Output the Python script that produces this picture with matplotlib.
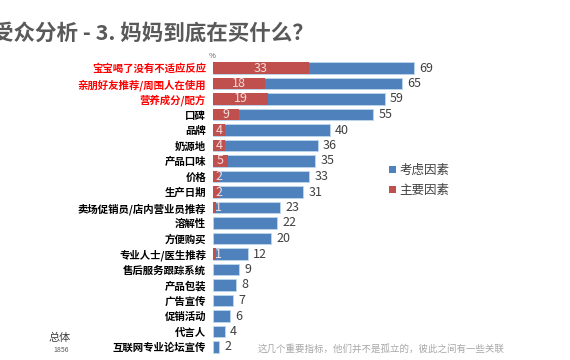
import matplotlib
matplotlib.use("Agg")
import matplotlib.pyplot as plt
import numpy as np

plt.rcParams['font.family'] = ['Noto Sans CJK SC', 'DejaVu Sans']

categories = ["宝宝喝了没有不适应反应", "亲朋好友推荐/周围人在使用", "营养成分/配方", "口碑", "品牌",
              "奶源地", "产品口味", "价格", "生产日期", "卖场促销员/店内营业员推荐", "溶解性",
              "方便购买", "专业人士/医生推荐", "售后服务跟踪系统", "产品包装", "广告宣传",
              "促销活动", "代言人", "互联网专业论坛宣传"]
consider = [69, 65, 59, 55, 40, 36, 35, 33, 31, 23, 22, 20, 12, 9, 8, 7, 6, 4, 2]
main = [33, 18, 19, 9, 4, 4, 5, 2, 2, 1, 0, 0, 1, 0, 0, 0, 0, 0, 0]
highlight = [True, True, True] + [False] * 16

BLUE = "#4F81BD"
RED = "#C0504D"

fig = plt.figure(figsize=(5.7, 3.6), dpi=100)
ax = fig.add_axes([213/570, 1 - 354.75/360, 80*2.913/570, 294.5/360])

y = np.arange(len(categories))
hb = ax.barh(y, consider, height=0.72, color=BLUE, edgecolor="#BDD7EE", linewidth=0.6, label="考虑因素")
hr = ax.barh(y, main, height=0.72, color=RED, edgecolor="none", label="主要因素")

for i, (c, m) in enumerate(zip(consider, main)):
    ax.text(c + 1.8, i, str(c), va="center", ha="left", fontsize=9, color="#404040")
    if m > 0:
        xpos = m / 2 if m >= 4 else max(m / 2, 0) + 1.2
        ax.text(xpos, i, str(m), va="center", ha="center", fontsize=9, color="#F2DCDB")

ax.set_xlim(0, 80)
ax.set_ylim(len(categories) - 0.5, -0.5)
ax.set_yticks(y)
ax.set_yticklabels(categories, fontsize=7.5, fontweight="bold")
for lbl, h in zip(ax.get_yticklabels(), highlight):
    lbl.set_color("#FF0000" if h else "#000000")
ax.tick_params(axis="y", length=0, pad=5)
ax.set_xticks([])
for s in ax.spines.values():
    s.set_visible(False)

fig.text(-8/570, 1 - 33/360, "受众分析 - 3. 妈妈到底在买什么？", fontsize=15.5, fontweight="bold",
         color="#595959", ha="left", va="center")
fig.text(212/570, 1 - 56/360, "%", fontsize=5.5, color="#595959", ha="center", va="center")

leg = fig.legend(handles=[hb, hr], labels=["考虑因素", "主要因素"], loc="upper left",
                 bbox_to_anchor=(389/570, 1 - 164/360), frameon=False, fontsize=9,
                 handlelength=0.55, handleheight=0.55, handletextpad=0.3, labelspacing=0.55,
                 borderpad=0, borderaxespad=0, labelcolor="#404040")
for h in leg.legend_handles:
    h.set_edgecolor("none")

fig.text(60/570, 1 - 338/360, "总体", fontsize=8, color="#404040", ha="center", va="center")
fig.text(61/570, 1 - 350/360, "1856", fontsize=5, color="#595959", ha="center", va="center")
fig.text(258/570, 1 - 349/360, "这几个重要指标，他们并不是孤立的，彼此之间有一些关联", fontsize=6.8,
         color="#A6A6A6", ha="left", va="center")

fig.savefig("out.png", dpi=100)
